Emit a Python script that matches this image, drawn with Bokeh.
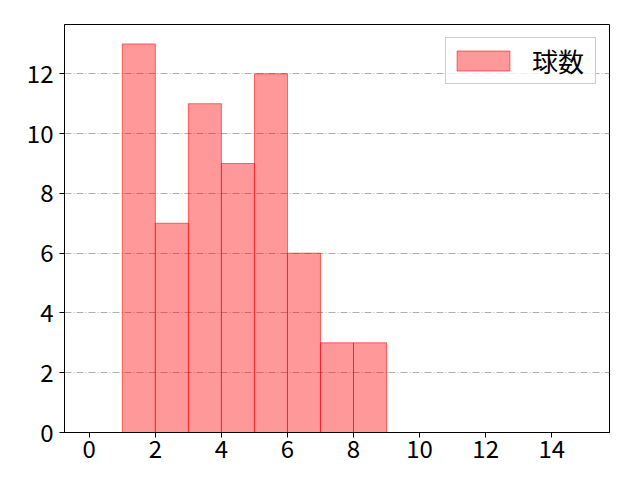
from bokeh.plotting import figure
from bokeh.models import Range1d, FixedTicker, Legend, LegendItem
from bokeh.embed import file_html
from bokeh.resources import INLINE

# Data
bin_edges = [1, 2, 3, 4, 5, 6, 7, 8, 9]
counts = [13, 7, 11, 9, 12, 6, 3, 3]
x_ticks = [0, 2, 4, 6, 8, 10, 12, 14]
y_ticks = [0, 2, 4, 6, 8, 10, 12]
series_label = "球数"

FONT = "Noto Sans CJK JP"

p = figure(
    frame_width=545, frame_height=408,
    min_border_left=64, min_border_right=23, min_border_top=24, min_border_bottom=40,
    x_range=Range1d(-0.75, 15.75), y_range=Range1d(0, 13.65),
    output_backend="svg", toolbar_location=None,
)

r = p.quad(left=bin_edges[:-1], right=bin_edges[1:], top=counts, bottom=0,
           fill_color="red", fill_alpha=0.4, line_color="red", line_alpha=0.55, line_width=1)

p.xgrid.grid_line_color = None
p.ygrid.grid_line_color = "#b0b0b0"
p.ygrid.grid_line_dash = "7 2 1 2"
p.ygrid.grid_line_width = 1
p.ygrid.ticker = FixedTicker(ticks=y_ticks)

p.xaxis.ticker = FixedTicker(ticks=x_ticks)
p.yaxis.ticker = FixedTicker(ticks=y_ticks)
for ax in (p.xaxis, p.yaxis):
    ax.major_label_text_font = FONT
    ax.major_label_text_font_size = "24px"
    ax.major_label_text_color = "black"
    ax.axis_line_color = "black"
    ax.major_tick_line_color = "black"
    ax.major_tick_out = 5
    ax.major_tick_in = 0
    ax.minor_tick_line_color = None
p.xaxis.major_label_standoff = 2
p.yaxis.major_label_standoff = 6

p.outline_line_color = "black"
p.outline_line_alpha = 1
p.outline_line_width = 1
p.background_fill_color = "white"
p.border_fill_color = "white"

legend = Legend(items=[LegendItem(label=series_label, renderers=[r])],
                location="top_right")
legend.margin = 13
legend.padding = 4
legend.spacing = 0
legend.glyph_width = 66
legend.glyph_height = 25
legend.label_height = 20
legend.label_width = 59
legend.label_standoff = 16
legend.label_text_font = FONT
legend.label_text_font_size = "26px"
legend.label_text_color = "black"
legend.border_line_color = "#cccccc"
legend.border_line_alpha = 1
legend.background_fill_alpha = 0.8
p.add_layout(legend, "center")

open("out.html", "w").write(file_html(p, INLINE))
